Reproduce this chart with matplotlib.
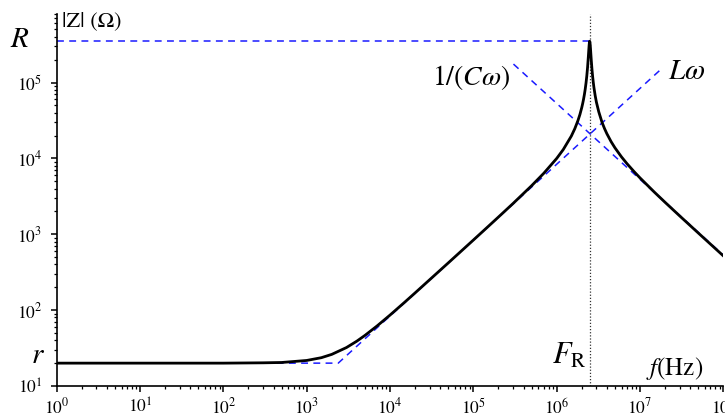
import matplotlib
matplotlib.use("Agg")
import matplotlib.pyplot as plt
from matplotlib.ticker import LogLocator, FixedLocator, NullFormatter

plt.rcParams['font.family'] = ['STIXGeneral', 'DejaVu Serif']
plt.rcParams['mathtext.fontset'] = 'stix'

# |Z| of the component
freq = [1, 100, 300, 500, 1000, 1500, 2000, 3000, 4000, 5000, 7000, 1e4, 1.5e4, 2e4,
        5e4, 1e5, 1.5e5, 2e5, 3e5, 5e5, 7e5, 1e6, 1.2e6, 1.5e6, 1.65e6, 1.8e6, 1.9e6,
        2.0e6, 2.05e6, 2.1e6, 2.15e6, 2.2e6, 2.25e6, 2.3e6, 2.35e6, 2.4e6, 2.43e6,
        2.45e6, 2.47e6, 2.49e6, 2.51e6, 2.53e6, 2.55e6, 2.57e6, 2.6e6, 2.65e6, 2.7e6,
        2.75e6, 2.8e6, 2.9e6, 3.0e6, 3.2e6, 3.5e6, 3.75e6, 4e6, 4.5e6, 5e6, 6e6, 7e6,
        8.5e6, 1e7, 1.5e7, 2e7, 3e7, 5e7, 1e8]
z_mag = [20, 20.0, 20.2, 20.4, 21.7, 23.6, 26.1, 32.1, 39.0, 46.4, 61.9, 86.0, 127.1, 168.6,
         419, 838, 1260, 1685, 2547, 4360, 6360, 9977, 13080, 19700, 24620, 31500, 37840,
         46750, 52640, 59960, 69300, 81590, 98460, 122800, 160000, 220200, 270700,
         307000, 337800, 350000, 337800, 308500, 273000, 239900, 198500, 150800, 120700,
         100300, 85870, 66820, 54900, 41100, 29900, 24750, 21180, 16620, 13800, 10450, 8486,
         6679, 5531, 3557, 2635, 1741, 1040, 519]

# asymptotes
r_L_f = [1, 2390, 1.84e7]
r_L_z = [20, 20, 1.54e5]
c_f = [3.03e5, 1e8]
c_z = [1.75e5, 530]
R_f = [1, 2.49e6]
R_z = [3.5e5, 3.5e5]
F_R = 2.49e6

x_ticks = [1e0, 1e1, 1e2, 1e3, 1e4, 1e5, 1e6, 1e7, 1e8]
x_labels = ['$10^{0}$', '$10^{1}$', '$10^{2}$', '$10^{3}$', '$10^{4}$', '$10^{5}$',
            '$10^{6}$', '$10^{7}$', '$10^{8}$']
y_ticks = [1e1, 1e2, 1e3, 1e4, 1e5]
y_labels = ['$10^{1}$', '$10^{2}$', '$10^{3}$', '$10^{4}$', '$10^{5}$']

fig = plt.figure(figsize=(7.25, 4.18), dpi=100)
ax = fig.add_axes([0.0782, 0.0766, 0.9195, 0.8899])
ax.set_xscale('log')
ax.set_yscale('log')
ax.set_xlim(1, 1e8)
ax.set_ylim(10, 8e5)

blue = '#1a1aff'
ax.plot(R_f, R_z, color=blue, lw=1.1, dashes=(4.5, 3.5))
ax.plot(r_L_f, r_L_z, color=blue, lw=1.1, dashes=(4.5, 3.5))
ax.plot(c_f, c_z, color=blue, lw=1.1, dashes=(4.5, 3.5))
ax.axvline(F_R, color='#333333', lw=0.9, ls=(0, (1, 1.5)))
ax.plot(freq, z_mag, color='black', lw=2.0, solid_joinstyle='round')

for s in ['top', 'right']:
    ax.spines[s].set_visible(False)
ax.spines['left'].set_linewidth(1.2)
ax.spines['bottom'].set_linewidth(1.2)

ax.xaxis.set_major_locator(FixedLocator(x_ticks))
ax.set_xticklabels(x_labels)
ax.yaxis.set_major_locator(FixedLocator(y_ticks))
ax.set_yticklabels(y_labels)
ax.xaxis.set_minor_locator(LogLocator(base=10, subs=range(2, 10), numticks=50))
ax.yaxis.set_minor_locator(LogLocator(base=10, subs=range(2, 10), numticks=50))
ax.xaxis.set_minor_formatter(NullFormatter())
ax.yaxis.set_minor_formatter(NullFormatter())
ax.tick_params(which='major', direction='out', length=4.5, width=1.1, labelsize=12.5)
ax.tick_params(axis='x', which='major', pad=4)
ax.tick_params(axis='y', which='major', pad=6)
ax.tick_params(which='minor', direction='out', length=2.5, width=0.9)

# annotations
fig.text(62 / 725, 1 - 21 / 418, '|Z| (Ω)', fontsize=16, va='center', ha='left')
fig.text(20 / 725, 1 - 40 / 418, '$R$', fontsize=21, va='center', ha='center')
fig.text(38 / 725, 1 - 356 / 418, '$r$', fontsize=21, va='center', ha='center')
fig.text(471 / 725, 1 - 78 / 418, r'$\mathrm{1/(}C\omega\mathrm{)}$', fontsize=20,
         va='center', ha='center')
fig.text(687 / 725, 1 - 72 / 418, r'$L\omega$', fontsize=21, va='center', ha='center')
fig.text(569 / 725, 1 - 356 / 418, r'$F_{\mathrm{R}}$', fontsize=22, va='center', ha='center')
fig.text(675 / 725, 1 - 369 / 418, r'$f\mathrm{(Hz)}$', fontsize=18, va='center', ha='center')

fig.savefig('out.png', dpi=100)
